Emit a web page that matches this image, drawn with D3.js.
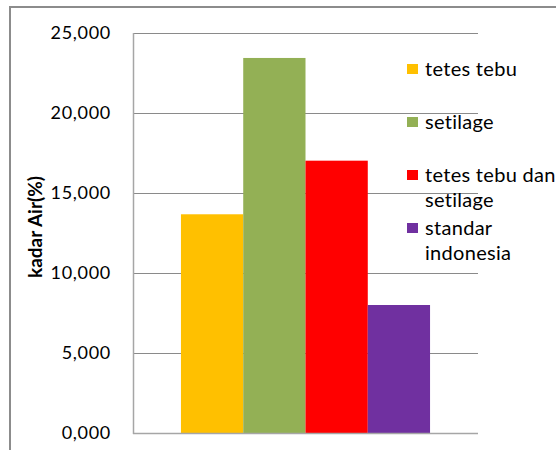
<!DOCTYPE html>
<html>
<head>
<meta charset="utf-8">
<script src="https://cdn.jsdelivr.net/npm/d3@7"></script>
<style>
  html, body { margin: 0; padding: 0; background: #fff; }
  svg { display: block; }
  text { font-family: Lato, "Open Sans", sans-serif; fill: #000; }
</style>
</head>
<body>
<svg id="chart" width="556" height="450"></svg>
<script>
// Moisture content per treatment
const series = ["tetes tebu", "setilage", "tetes tebu dan setilage", "standar indonesia"];
const values = [13.67, 23.44, 17.02, 8.0];
const colors = ["#FFC000", "#93B055", "#FF0000", "#7030A0"];
const legendLines = [["tetes tebu"], ["setilage"], ["tetes tebu dan", "setilage"], ["standar", "indonesia"]];
const yTicks = [0, 5, 10, 15, 20, 25];
const yTitle = "kadar Air(%)";

const svg = d3.select("#chart");
const plot = { left: 133, top: 33, right: 478, bottom: 433 };

// outer frame (left and top edges)
svg.append("path")
  .attr("d", `M10,450 L10,7 L556,7`)
  .attr("fill", "none")
  .attr("stroke", "#8c8c8c")
  .attr("stroke-width", 2);

const y = d3.scaleLinear().domain([0, 25]).range([plot.bottom, plot.top]);
const x = d3.scaleBand().domain(series).range([plot.left, plot.right])
  .paddingInner(0).paddingOuter(0.77);

// tick text like 25,000 (decimal comma, three decimals)
const label = v => v.toFixed(3).replace(".", ",");

// gridlines
svg.append("g").selectAll("line")
  .data(yTicks.filter(t => t > 0))
  .join("line")
  .attr("x1", plot.left).attr("x2", plot.right)
  .attr("y1", d => Math.round(y(d)) + 0.5).attr("y2", d => Math.round(y(d)) + 0.5)
  .attr("stroke", "#8a8a8a").attr("stroke-width", 1);

// y axis labels
const yAxis = d3.axisLeft(y).tickValues(yTicks).tickFormat(label).tickSize(0).tickPadding(22);
const gy = svg.append("g").attr("transform", `translate(${plot.left},0)`).call(yAxis);
gy.select(".domain").remove();
gy.selectAll("text")
  .style("font-family", "Lato, sans-serif")
  .attr("font-size", 18)
  .attr("letter-spacing", 0.7)
  .attr("fill", "#000");

// bars
svg.append("g").selectAll("rect")
  .data(values)
  .join("rect")
  .attr("x", (d, i) => x(series[i]))
  .attr("width", x.bandwidth())
  .attr("y", d => y(d))
  .attr("height", d => y(0) - y(d))
  .attr("fill", (d, i) => colors[i]);

// axis lines
svg.append("line")
  .attr("x1", plot.left + 0.5).attr("x2", plot.left + 0.5)
  .attr("y1", plot.top).attr("y2", plot.bottom + 1)
  .attr("stroke", "#a6a6a6").attr("stroke-width", 1.5);
svg.append("line")
  .attr("x1", plot.left).attr("x2", plot.right)
  .attr("y1", plot.bottom + 0.5).attr("y2", plot.bottom + 0.5)
  .attr("stroke", "#a6a6a6").attr("stroke-width", 1.5);

// y axis title
svg.append("text")
  .attr("transform", `translate(42,${(plot.top + plot.bottom) / 2 - 6}) rotate(-90)`)
  .attr("text-anchor", "middle")
  .attr("font-size", 19)
  .attr("font-weight", "bold")
  .text(yTitle);

// legend
const legendTop = [69, 122, 175, 228];
const lg = svg.append("g");
legendLines.forEach((lines, i) => {
  const g = lg.append("g").attr("transform", `translate(407,${legendTop[i]})`);
  g.append("rect").attr("x", 0).attr("y", -5).attr("width", 11).attr("height", 10).attr("fill", colors[i]);
  lines.forEach((t, j) => {
    g.append("text")
      .attr("x", 18).attr("y", 6.5 + j * 25)
      .attr("font-size", 20)
      .attr("letter-spacing", 0.3)
      .text(t);
  });
});
</script>
</body>
</html>
